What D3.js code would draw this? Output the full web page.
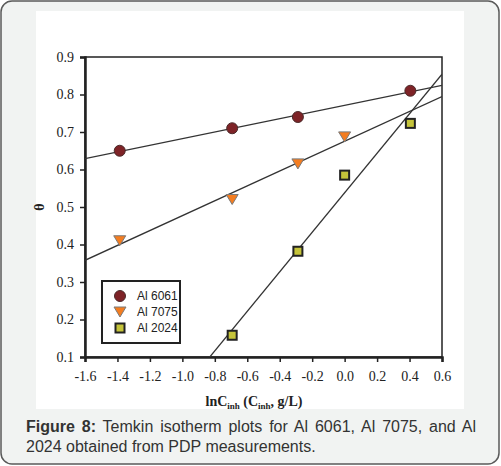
<!DOCTYPE html>
<html>
<head>
<meta charset="utf-8">
<script src="https://cdn.jsdelivr.net/npm/d3@7"></script>
<style>
  body { margin: 0; background: #fff; }
  #wrap { position: relative; width: 501px; height: 466px; }
  #caption {
    position: absolute; left: 26px; top: 417px; width: 450px;
    font-family: "Liberation Sans", Arial, sans-serif; font-size: 16px;
    line-height: 20px; color: #333; text-align: justify;
  }
</style>
</head>
<body>
<div id="wrap">
  <svg id="chart" width="501" height="466"></svg>
  <div id="caption"><b>Figure 8:</b> Temkin isotherm plots for Al 6061, Al 7075, and Al 2024 obtained from PDP measurements.</div>
</div>
<script>
// lnC values and surface coverage
const lnC6061 = [-1.386, -0.693, -0.288, 0.405];
const theta6061 = [0.65, 0.71, 0.74, 0.81];
const lnC7075 = [-1.386, -0.693, -0.288, 0.0];
const theta7075 = [0.41, 0.52, 0.615, 0.687];
const lnC2024 = [-0.693, -0.288, 0.0, 0.405];
const theta2024 = [0.158, 0.382, 0.585, 0.723];

const seriesNames = ["Al 6061", "Al 7075", "Al 2024"];
const xTicks = [-1.6, -1.4, -1.2, -1.0, -0.8, -0.6, -0.4, -0.2, 0.0, 0.2, 0.4, 0.6];
const yTicks = [0.1, 0.2, 0.3, 0.4, 0.5, 0.6, 0.7, 0.8, 0.9];

const series = [
    { name: seriesNames[0], x: lnC6061, y: theta6061, shape: "circle", fill: "#7e2327", stroke: "#4b2b2b" },
    { name: seriesNames[1], x: lnC7075, y: theta7075, shape: "triangle", fill: "#f47d20", stroke: "#7a7a7a" },
    { name: seriesNames[2], x: lnC2024, y: theta2024, shape: "square", fill: "#c5c43a", stroke: "#222" }
];

const serif = "Liberation Serif, Times New Roman, serif";
const svg = d3.select("#chart");

// page frame
svg.append("rect")
    .attr("x", 1).attr("y", 1).attr("width", 498).attr("height", 463)
    .attr("rx", 11).attr("ry", 11)
    .attr("fill", "#f1f3f2").attr("stroke", "#5a5a5a").attr("stroke-width", 1.5);
svg.append("rect")
    .attr("x", 36).attr("y", 11).attr("width", 428).attr("height", 398)
    .attr("fill", "#fff");

const margin = { left: 85, top: 57, right: 442, bottom: 357 };

const xScale = d3.scaleLinear().domain([-1.6, 0.6]).range([margin.left, margin.right]);
const yScale = d3.scaleLinear().domain([0.1, 0.9]).range([margin.bottom, margin.top]);

// frame around plot
svg.append("rect")
    .attr("x", margin.left).attr("y", margin.top)
    .attr("width", margin.right - margin.left).attr("height", margin.bottom - margin.top)
    .attr("fill", "none").attr("stroke", "#222").attr("stroke-width", 1.5);

// axes
const xAxis = svg.append("g")
    .attr("transform", `translate(0,${margin.bottom})`)
    .call(d3.axisBottom(xScale).tickValues(xTicks).tickSize(5).tickPadding(9).tickFormat(d => d.toFixed(1)));
const yAxis = svg.append("g")
    .attr("transform", `translate(${margin.left},0)`)
    .call(d3.axisLeft(yScale).tickValues(yTicks).tickSize(5).tickPadding(6).tickFormat(d => d.toFixed(1)));
[xAxis, yAxis].forEach(a => {
    a.attr("font-family", serif).attr("font-size", 14);
    a.select(".domain").attr("stroke", "#222").attr("stroke-width", 2.5);
    a.selectAll(".tick line").attr("stroke", "#222").attr("stroke-width", 1.5);
    a.selectAll(".tick text").attr("fill", "#222");
});

// axis labels
svg.append("text")
    .attr("transform", `translate(44, 207) rotate(-90)`)
    .attr("text-anchor", "middle")
    .attr("font-family", serif).attr("font-weight", "bold").attr("font-size", 14)
    .attr("fill", "#222")
    .text("θ");

const xLabel = svg.append("text")
    .attr("x", 254).attr("y", 406)
    .attr("text-anchor", "middle")
    .attr("font-family", serif).attr("font-weight", "bold").attr("font-size", 14)
    .attr("fill", "#222");
xLabel.append("tspan").text("lnC");
xLabel.append("tspan").attr("font-size", 9).attr("dy", 3).text("inh");
xLabel.append("tspan").attr("dy", -3).text(" (C");
xLabel.append("tspan").attr("font-size", 9).attr("dy", 3).text("inh");
xLabel.append("tspan").attr("dy", -3).text(", g/L)");

// clip for the fitted lines
svg.append("clipPath").attr("id", "plot-clip")
    .append("rect")
    .attr("x", margin.left).attr("y", margin.top)
    .attr("width", margin.right - margin.left).attr("height", margin.bottom - margin.top);

// least squares fit of each series
const fit = (xs, ys) => {
    const mx = d3.mean(xs), my = d3.mean(ys);
    const sxy = d3.sum(xs, (x, i) => (x - mx) * (ys[i] - my));
    const sxx = d3.sum(xs, x => (x - mx) * (x - mx));
    const slope = sxy / sxx;
    return { slope, intercept: my - slope * mx };
};

const lines = svg.append("g").attr("clip-path", "url(#plot-clip)");
series.forEach(s => {
    const f = fit(s.x, s.y);
    const [x0, x1] = xScale.domain();
    lines.append("line")
        .attr("x1", xScale(x0)).attr("y1", yScale(f.intercept + f.slope * x0))
        .attr("x2", xScale(x1)).attr("y2", yScale(f.intercept + f.slope * x1))
        .attr("stroke", "#333").attr("stroke-width", 1.3);
});

// marker drawing
const drawMarker = (g, s, cx, cy) => {
    if (s.shape === "circle") {
        g.append("circle").attr("cx", cx).attr("cy", cy).attr("r", 5.5)
            .attr("fill", s.fill).attr("stroke", s.stroke).attr("stroke-width", 1);
    } else if (s.shape === "triangle") {
        g.append("path")
            .attr("d", `M${cx - 6},${cy - 5} L${cx + 6},${cy - 5} L${cx},${cy + 5} Z`)
            .attr("fill", s.fill).attr("stroke", s.stroke).attr("stroke-width", 1);
    } else {
        g.append("rect").attr("x", cx - 4.5).attr("y", cy - 4.5).attr("width", 9).attr("height", 9)
            .attr("fill", s.fill).attr("stroke", s.stroke).attr("stroke-width", 2);
    }
};

const points = svg.append("g");
series.forEach(s => {
    s.x.forEach((x, i) => drawMarker(points, s, xScale(x), yScale(s.y[i])));
});

// legend
const legend = svg.append("g");
legend.append("rect")
    .attr("x", 102).attr("y", 281).attr("width", 78).attr("height", 62)
    .attr("fill", "#fff").attr("stroke", "#222").attr("stroke-width", 2);
series.forEach((s, i) => {
    const cy = 296 + i * 16;
    drawMarker(legend, s, 120, cy);
    legend.append("text")
        .attr("x", 137).attr("y", cy + 4)
        .attr("font-family", "Liberation Sans Narrow, Arial Narrow, Liberation Sans, sans-serif")
        .attr("font-size", 12).attr("fill", "#222")
        .text(s.name);
});
</script>
</body>
</html>
